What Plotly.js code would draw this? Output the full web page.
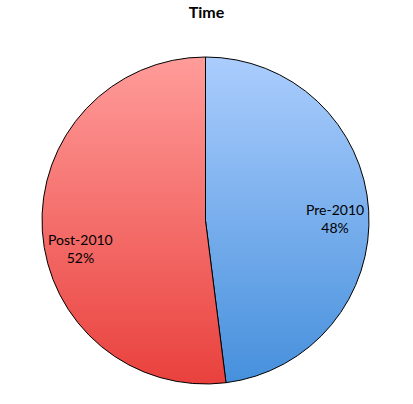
<!DOCTYPE html>
<html>
<head>
<meta charset="utf-8">
<script src="https://cdn.plot.ly/plotly-3.0.1.min.js"></script>
<style>html,body{margin:0;padding:0;background:#fff;}#chart{width:413px;height:404px;}</style>
</head>
<body>
<div id="chart"></div>
<script>
const labels = ["Pre-2010", "Post-2010"];
const values = [48, 52];
const topColors = ["#abcdfd", "#ff9c9a"];
const bottomColors = ["#4690dc", "#e9413d"];

const total = values.reduce((a, b) => a + b, 0);
const labelPos = [[335/413, 1 - 218/404], [80/413, 1 - 248/404]];
const annotations = labels.map((l, i) => ({
  text: l + "<br>" + Math.round(values[i] / total * 100) + "%",
  x: labelPos[i][0], y: labelPos[i][1], xref: "paper", yref: "paper",
  xanchor: "center", yanchor: "middle",
  showarrow: false, font: {family: "Lato, 'Open Sans', sans-serif", size: 14, color: "#000"},
  align: "center"
}));

const data = [{
  type: "pie",
  labels: labels,
  values: values,
  sort: false,
  direction: "clockwise",
  rotation: 0,
  textinfo: "none",
  hoverinfo: "label+percent",
  marker: {colors: bottomColors, line: {color: "#000", width: 1}},
  domain: {x: [42/413, 369/413], y: [1 - 384/404, 1 - 57/404]},
  showlegend: false
}];

const layout = {
  width: 413, height: 404,
  margin: {l: 0, r: 0, t: 0, b: 0},
  paper_bgcolor: "#fff",
  title: {text: "<b>Time</b>", x: 0.5, xanchor: "center", y: 1 - 12/404, yanchor: "middle",
          font: {family: "Lato, 'Open Sans', sans-serif", size: 16, color: "#000"}},
  annotations: annotations,
  showlegend: false
};

Plotly.newPlot("chart", data, layout, {displayModeBar: false, staticPlot: true}).then(gd => {
  const svg = gd.querySelector("svg.main-svg");
  const ns = "http://www.w3.org/2000/svg";
  let defs = svg.querySelector("defs");
  if (!defs) { defs = document.createElementNS(ns, "defs"); svg.insertBefore(defs, svg.firstChild); }
  labels.forEach((l, i) => {
    const g = document.createElementNS(ns, "linearGradient");
    g.setAttribute("id", "grad" + i);
    g.setAttribute("x1", "0"); g.setAttribute("y1", "0");
    g.setAttribute("x2", "0"); g.setAttribute("y2", "1");
    const s1 = document.createElementNS(ns, "stop");
    s1.setAttribute("offset", "0"); s1.setAttribute("stop-color", topColors[i]);
    const s2 = document.createElementNS(ns, "stop");
    s2.setAttribute("offset", "1"); s2.setAttribute("stop-color", bottomColors[i]);
    g.appendChild(s1); g.appendChild(s2); defs.appendChild(g);
  });
  gd.querySelectorAll("g.slice path.surface").forEach((p, i) => {
    p.style.fill = "url(#grad" + i + ")";
  });
});
</script>
</body>
</html>
